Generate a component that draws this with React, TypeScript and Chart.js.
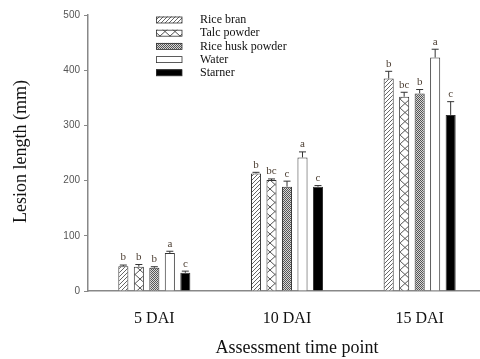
import React, { useEffect, useRef } from "react";
import { Chart, registerables } from "chart.js";

Chart.register(...registerables);

const categories = ["5 DAI", "10 DAI", "15 DAI"];
const seriesNames = ["Rice bran", "Talc powder", "Rice husk powder", "Water", "Starner"];
const riceBran = [45, 213, 385];
const talcPowder = [44, 201, 352];
const riceHusk = [42, 189, 358];
const water = [69, 242, 423];
const starner = [33, 189, 319];
const riceBranErr = [2, 2, 13];
const talcPowderErr = [4, 2, 8];
const riceHuskErr = [2, 10, 7];
const waterErr = [3, 10, 15];
const starnerErr = [3, 2, 24];
const riceBranLetters = ["b", "b", "b"];
const talcPowderLetters = ["b", "bc", "bc"];
const riceHuskLetters = ["b", "c", "b"];
const waterLetters = ["a", "a", "a"];
const starnerLetters = ["c", "c", "c"];
const yTicks = [0, 100, 200, 300, 400, 500];

function makePattern(kind: string): CanvasPattern | string {
  const c = document.createElement("canvas");
  const ctx = c.getContext("2d")!;
  if (kind === "diag") {
    c.width = 4; c.height = 4;
    ctx.fillStyle = "#fff"; ctx.fillRect(0, 0, 4, 4);
    ctx.strokeStyle = "#555"; ctx.lineWidth = 0.9;
    ctx.beginPath();
    ctx.moveTo(0, 4); ctx.lineTo(4, 0);
    ctx.moveTo(-1, 1); ctx.lineTo(1, -1);
    ctx.moveTo(3, 5); ctx.lineTo(5, 3);
    ctx.stroke();
  } else if (kind === "lattice") {
    c.width = 10; c.height = 9;
    ctx.fillStyle = "#fff"; ctx.fillRect(0, 0, 10, 9);
    ctx.strokeStyle = "#555"; ctx.lineWidth = 1;
    ctx.beginPath();
    ctx.moveTo(0, 0); ctx.lineTo(10, 9);
    ctx.moveTo(10, 0); ctx.lineTo(0, 9);
    ctx.stroke();
  } else if (kind === "check") {
    c.width = 2; c.height = 2;
    ctx.fillStyle = "#d8d8d8"; ctx.fillRect(0, 0, 2, 2);
    ctx.fillStyle = "#555"; ctx.fillRect(0, 0, 1, 1); ctx.fillRect(1, 1, 1, 1);
  } else {
    return kind;
  }
  return ctx.createPattern(c, "repeat")!;
}

export default function App() {
  const ref = useRef<HTMLCanvasElement>(null);
  useEffect(() => {
    const values = [riceBran, talcPowder, riceHusk, water, starner];
    const errs = [riceBranErr, talcPowderErr, riceHuskErr, waterErr, starnerErr];
    const letters = [riceBranLetters, talcPowderLetters, riceHuskLetters, waterLetters, starnerLetters];
    const fills = [makePattern("diag"), makePattern("lattice"), makePattern("check"), "#ffffff", "#000000"];

    const overlay = {
      id: "overlay",
      afterDatasetsDraw(chart: any) {
        const ctx = chart.ctx;
        const ys = chart.scales.y;
        ctx.save();
        chart.data.datasets.forEach((ds: any, i: number) => {
          const meta = chart.getDatasetMeta(i);
          meta.data.forEach((el: any, j: number) => {
            const top = ys.getPixelForValue(values[i][j] + errs[i][j]);
            ctx.strokeStyle = "#333";
            ctx.lineWidth = 1;
            ctx.beginPath();
            ctx.moveTo(el.x, el.y);
            ctx.lineTo(el.x, top);
            ctx.moveTo(el.x - 3.5, top);
            ctx.lineTo(el.x + 3.5, top);
            ctx.stroke();
            ctx.fillStyle = "#4d3f33";
            ctx.font = "11px 'Liberation Serif', serif";
            ctx.textAlign = "center";
            ctx.textBaseline = "bottom";
            ctx.fillText(letters[i][j], el.x, top - 2);
          });
        });
        ctx.restore();
      },
      afterDraw(chart: any) {
        const ctx = chart.ctx;
        ctx.save();
        // legend
        seriesNames.forEach((name, i) => {
          const y = 16.5 + i * 13.2;
          ctx.fillStyle = fills[i] as any;
          ctx.fillRect(156, y, 26, 6.5);
          ctx.strokeStyle = "#333";
          ctx.lineWidth = 0.8;
          ctx.strokeRect(156.5, y + 0.5, 25.5, 6);
          ctx.fillStyle = "#111";
          ctx.font = "12px 'Liberation Serif', serif";
          ctx.textAlign = "left";
          ctx.textBaseline = "middle";
          ctx.fillText(name, 200, y + 3.5);
        });
        // axis titles
        ctx.fillStyle = "#111";
        ctx.font = "18px 'Liberation Serif', serif";
        ctx.textAlign = "center";
        ctx.textBaseline = "middle";
        ctx.fillText("Assessment time point", 297, 348);
        ctx.translate(21, 151.5);
        ctx.rotate(-Math.PI / 2);
        ctx.fillText("Lesion length (mm)", 0, 0);
        ctx.restore();
      },
    };

    const chart = new Chart(ref.current!, {
      type: "bar",
      data: {
        labels: categories,
        datasets: seriesNames.map((name, i) => ({
          label: name,
          data: values[i],
          backgroundColor: fills[i] as any,
          borderColor: "#333",
          borderWidth: 1,
          borderSkipped: "bottom",
          categoryPercentage: 0.584,
          barPercentage: 0.65,
        })),
      },
      options: {
        responsive: false,
        animation: false,
        layout: { padding: { top: 15, right: 0, left: 0, bottom: 0 } },
        plugins: { legend: { display: false }, tooltip: { enabled: false } },
        scales: {
          x: {
            grid: { display: false, drawTicks: false },
            border: { display: true, color: "#888", width: 1.5 },
            ticks: {
              color: "#111",
              padding: 18,
              font: { family: "'Liberation Serif', serif", size: 16 },
            },
            afterFit(scale: any) { scale.height = 68; },
          },
          y: {
            min: 0,
            max: 500,
            afterBuildTicks(scale: any) { scale.ticks = yTicks.map((v) => ({ value: v })); },
            grid: { drawOnChartArea: false, drawTicks: true, tickLength: 4, color: "#888" },
            border: { display: true, color: "#888", width: 1.5 },
            ticks: {
              color: "#555",
              padding: 4,
              font: { family: "'Liberation Sans', Arial, sans-serif", size: 10 },
            },
            afterFit(scale: any) { scale.width = 88; },
          },
        },
      },
      plugins: [overlay],
    });
    return () => chart.destroy();
  }, []);
  return (
    <div style={{ position: "absolute", left: 0, top: 0, width: 480, height: 359, overflow: "hidden", background: "#fff" }}>
      <canvas ref={ref} width={486} height={359} style={{ display: "block" }} />
    </div>
  );
}
